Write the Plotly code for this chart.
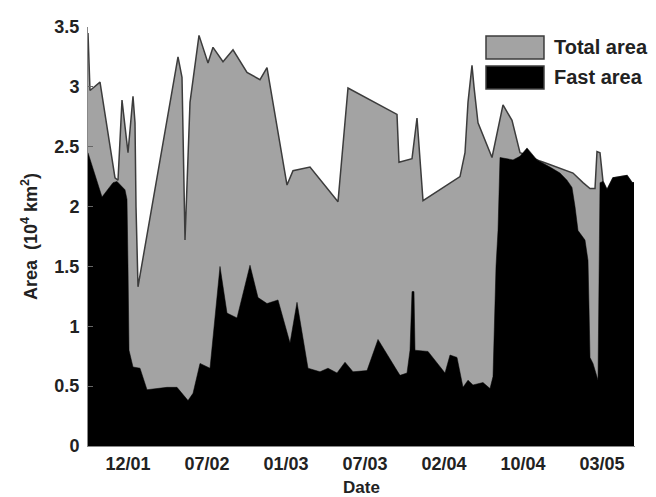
import plotly.graph_objects as go

# Sample positions (along an index axis) and areas in 10^4 km^2
total_x = [0, 2, 12, 27, 30, 34, 37, 40, 45, 47, 48, 50, 90, 94, 97, 102, 111, 120, 125,
           135, 145, 159, 172, 179, 199, 205, 222, 250, 260, 309, 311, 324, 329, 332, 335,
           372, 377, 380, 384, 386, 390, 404, 409, 415, 424, 432, 439, 452, 459, 472, 485,
           495, 502, 507, 509, 512, 515, 519, 525, 532, 539, 544, 546]
total_area = [3.45, 2.97, 3.04, 2.24, 2.22, 2.89, 2.67, 2.45, 2.92, 2.70, 2.00, 1.33, 3.25,
              3.08, 1.72, 2.87, 3.43, 3.20, 3.33, 3.21, 3.31, 3.12, 3.06, 3.16, 2.18, 2.30,
              2.33, 2.04, 2.99, 2.77, 2.37, 2.40, 2.74, 2.39, 2.05, 2.25, 2.45, 2.87, 3.18,
              3.00, 2.70, 2.41, 2.60, 2.85, 2.72, 2.45, 2.43, 2.38, 2.36, 2.32, 2.28, 2.20,
              2.15, 2.15, 2.46, 2.45, 2.21, 2.14, 2.24, 2.25, 2.26, 2.20, 2.20]

fast_x = [0, 14, 25, 29, 37, 39, 40, 41, 45, 52, 59, 79, 89, 100, 105, 112, 122, 132, 139,
          149, 162, 170, 179, 190, 202, 209, 220, 232, 240, 249, 257, 265, 279, 290, 309,
          312, 319, 322, 324, 326, 327, 340, 357, 362, 369, 375, 380, 385, 395, 402, 405,
          408, 410, 412, 425, 432, 439, 449, 462, 472, 479, 484, 487, 490, 497, 500, 501,
          502, 505, 509, 510, 512, 515, 519, 525, 532, 539, 544, 546]
fast_area = [2.45, 2.08, 2.20, 2.21, 2.14, 2.06, 1.50, 0.80, 0.66, 0.65, 0.47, 0.49, 0.49,
             0.38, 0.44, 0.69, 0.65, 1.50, 1.11, 1.07, 1.51, 1.24, 1.19, 1.22, 0.86, 1.20,
             0.65, 0.62, 0.65, 0.61, 0.70, 0.62, 0.63, 0.89, 0.63, 0.59, 0.61, 0.80, 1.29,
             1.29, 0.80, 0.79, 0.61, 0.76, 0.74, 0.49, 0.55, 0.51, 0.53, 0.48, 0.58, 1.50,
             1.80, 2.41, 2.39, 2.42, 2.49, 2.39, 2.33, 2.28, 2.22, 2.16, 2.00, 1.80, 1.72,
             1.55, 1.16, 0.74, 0.69, 0.58, 0.55, 2.20, 2.21, 2.14, 2.24, 2.25, 2.26, 2.20, 2.20]

tick_pos = [40, 119, 198, 277, 356, 435, 514]
tick_labels = ["12/01", "07/02", "01/03", "07/03", "02/04", "10/04", "03/05"]
y_ticks = [0, 0.5, 1, 1.5, 2, 2.5, 3, 3.5]

FONT = "Arial, Liberation Sans, sans-serif"
GRAY = "#a3a3a3"
TXT = "#222"

fig = go.Figure()
fig.add_trace(go.Scatter(x=total_x, y=total_area, mode="lines", fill="tozeroy",
                         fillcolor=GRAY, line=dict(color="#3c3c3c", width=1.5),
                         name="Total area", showlegend=False))
fig.add_trace(go.Scatter(x=fast_x, y=fast_area, mode="lines", fill="tozeroy",
                         fillcolor="black", line=dict(color="black", width=0.5),
                         name="Fast area", showlegend=False))

# legend drawn as patches
legend_items = [("Total area", GRAY, 0.9236, 0.9785, 0.952),
                ("Fast area", "black", 0.852, 0.9069, 0.8807)]
for label, col, y0, y1, yt in legend_items:
    fig.add_shape(type="rect", xref="paper", yref="paper", x0=0.7276, x1=0.8336,
                  y0=y0, y1=y1, fillcolor=col, line=dict(color="#3c3c3c", width=1.5))
    fig.add_annotation(xref="paper", yref="paper", x=0.848, y=yt, text=label,
                       showarrow=False, xanchor="left", yanchor="middle",
                       font=dict(family=FONT, size=20, color=TXT, weight="bold"))

fig.update_layout(
    width=656, height=497,
    margin=dict(l=88, r=21, t=27, b=51),
    paper_bgcolor="white", plot_bgcolor="white",
    font=dict(family=FONT, size=18, color=TXT),
    showlegend=False,
)
fig.update_xaxes(range=[0, 547], tickvals=tick_pos, ticktext=tick_labels,
                 showgrid=False, zeroline=False, showline=True, linecolor="#888",
                 linewidth=1, ticks="", ticklabelstandoff=1, automargin=False,
                 tickfont=dict(family=FONT, size=18, color=TXT, weight="bold"),
                 title=dict(text="Date", standoff=8,
                            font=dict(family=FONT, size=17, color=TXT, weight="bold")))
fig.update_yaxes(range=[0, 3.5], tickvals=y_ticks,
                 showgrid=False, zeroline=False, showline=True, linecolor="#888",
                 linewidth=1, ticks="inside", ticklen=5, tickcolor="#666",
                 ticklabelstandoff=4, automargin=False,
                 tickfont=dict(family=FONT, size=18, color=TXT, weight="bold"),
                 title=dict(text="Area  (10<sup>4</sup> km<sup>2</sup>)", standoff=12,
                            font=dict(family=FONT, size=18, color=TXT, weight="bold")))

fig.write_html("out.html", config={"displayModeBar": False},
               post_script="document.body.style.margin='0';document.body.style.overflow='hidden';")
